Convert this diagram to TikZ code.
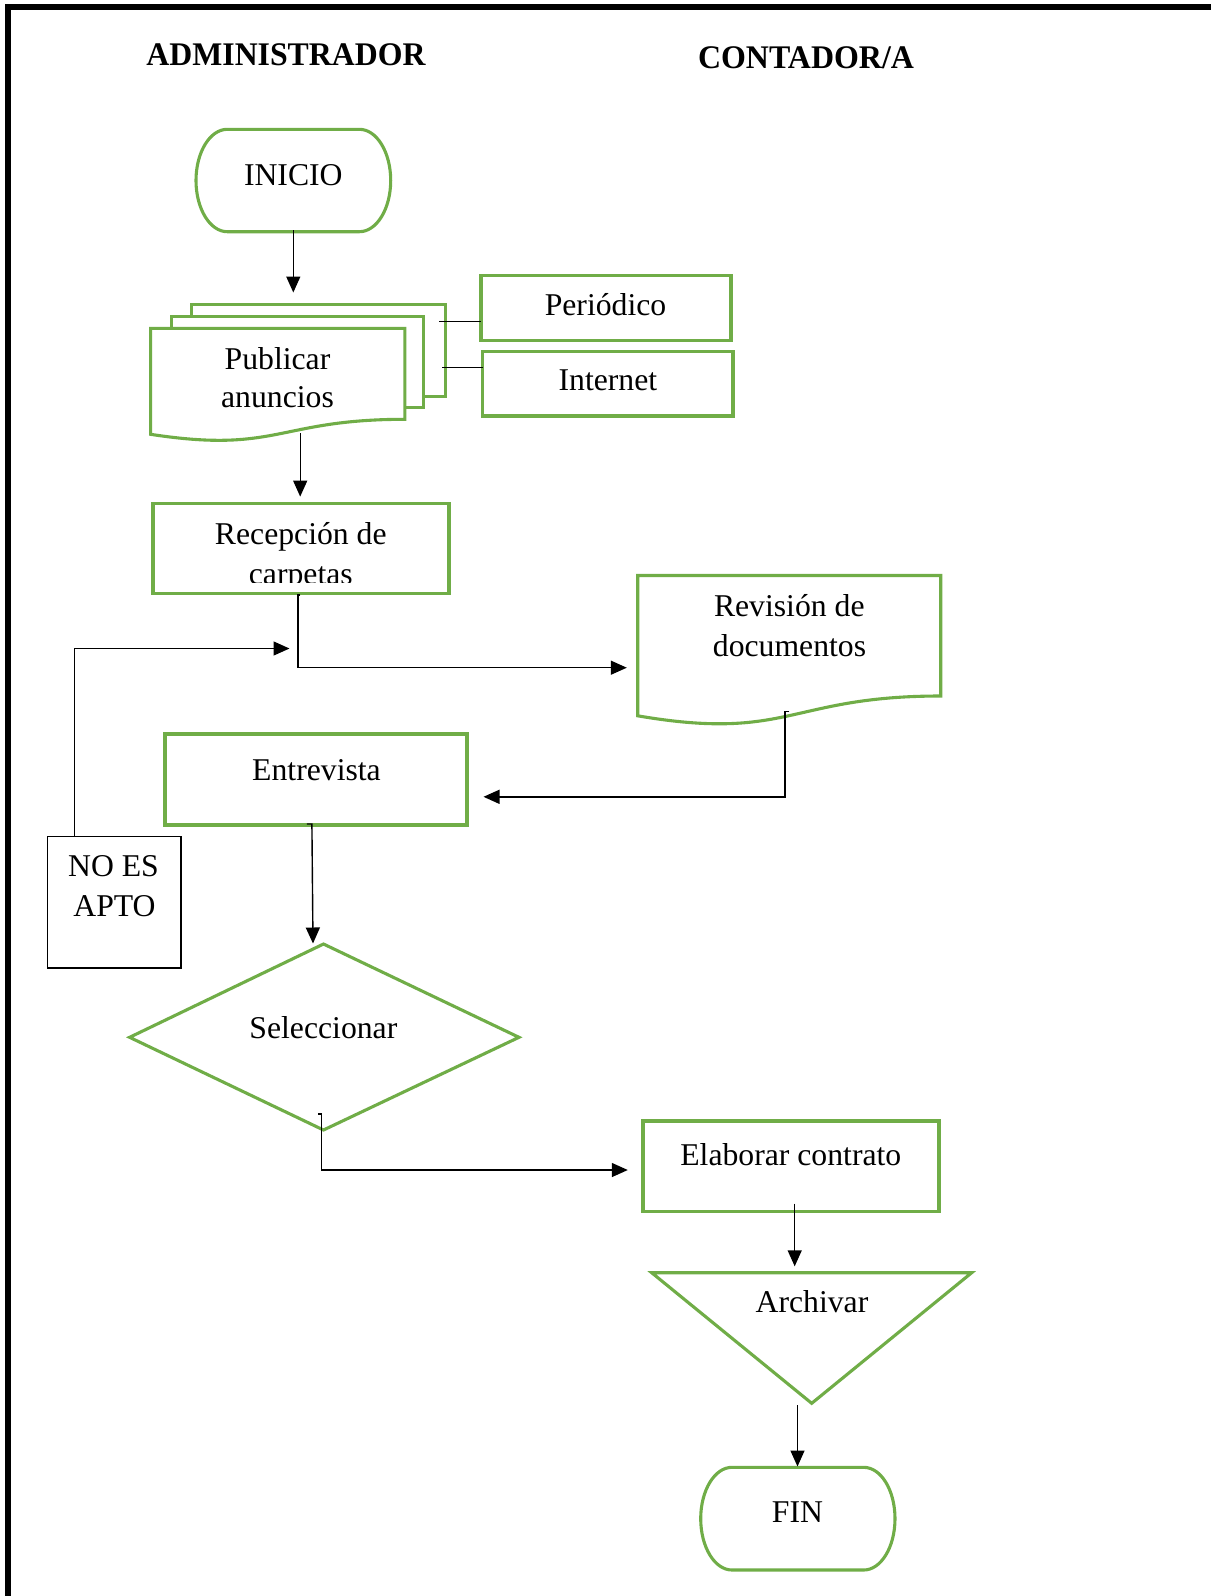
\documentclass[tikz,border=0pt]{standalone}
\usepackage{fontspec}
\usepackage{graphicx}
\setmainfont{Liberation Serif}
\usetikzlibrary{arrows.meta}
\definecolor{flowgreen}{RGB}{112,173,71}
\begin{document}
\begin{tikzpicture}[x=1pt,y=-1pt,
  shapeline/.style={draw=flowgreen, line width=3.1pt, fill=white, line join=miter},
  rectbox/.style={shapeline, rectangle, inner sep=0pt, outer sep=0pt},
  plainbox/.style={draw=black, line width=1.4pt, rectangle, inner sep=0pt, outer sep=0pt},
  conn/.style={draw=black, line width=1.4pt},
  flow/.style={conn, -{Triangle[length=16pt,width=14pt]}},
  lbl/.style={font=\fontsize{31.7}{39.7}\selectfont, anchor=base, inner sep=0pt, outer sep=0pt},
  head/.style={font=\fontsize{33}{40}\selectfont\bfseries, anchor=base, inner sep=0pt, outer sep=0pt}
]
\useasboundingbox (0,0) rectangle (1211,1596);

% page frame (top and left rules)
\draw[line width=5.7pt] (8.2,1596) -- (8.2,6.85) -- (1211,6.85);

% lane titles
\node[head] (tadmin) at (286,65) {\resizebox{279pt}{\height}{ADMINISTRADOR}};
\node[head] (tcont) at (806,68.5) {\resizebox{216pt}{\height}{CONTADOR/A}};

% ---- shapes ----
% start terminator
\draw[shapeline] (227.3,129.3) -- (359.4,129.3)
  .. controls (376.7,129.3) and (390.7,152.2) .. (390.7,180.5)
  .. controls (390.7,208.8) and (376.7,231.7) .. (359.4,231.7)
  -- (227.3,231.7)
  .. controls (210,231.7) and (196,208.8) .. (196,180.5)
  .. controls (196,152.2) and (210,129.3) .. (227.3,129.3) -- cycle;

% multi-document: publish ads
\draw[shapeline] (191.3,304.3) rectangle (445.1,396.7);
\draw[shapeline] (171.5,316.7) rectangle (423.8,407.7);
\draw[shapeline] (150.6,328.3) -- (404.8,328.3) -- (404.8,419.3)
  .. controls (277.7,419.3) and (277.7,453.9) .. (150.6,434.3) -- cycle;

% media boxes
\node[rectbox, minimum width=250pt, minimum height=65pt] (periodico) at (606,308) {};
\node[rectbox, minimum width=250.5pt, minimum height=64.5pt] (internet) at (607.75,383.75) {};

% reception
\node[rectbox, minimum width=296pt, minimum height=90pt] (recepcion) at (301,548.5) {};

% document review
\draw[shapeline] (637.7,575.5) -- (940.7,575.5) -- (940.7,696)
  .. controls (789.2,696) and (789.2,741.8) .. (637.7,715.8) -- cycle;

% interview
\node[rectbox, minimum width=302pt, minimum height=91pt] (entrevista) at (316,779.5) {};

% rejected
\node[plainbox, minimum width=133.5pt, minimum height=131.5pt] (noapto) at (114.25,902.25) {};

% decision
\draw[shapeline] (323.5,944) -- (519,1037.3) -- (323.5,1130) -- (129.6,1037.3) -- cycle;

% contract
\node[rectbox, minimum width=296pt, minimum height=90.5pt] (contrato) at (791,1166.25) {};

% archive (merge triangle)
\draw[shapeline] (651.7,1272.7) -- (971.7,1272.7) -- (811.7,1403.3) -- cycle;

% end terminator
\draw[shapeline] (732,1467.3) -- (863.7,1467.3)
  .. controls (881,1467.3) and (895,1490.25) .. (895,1518.65)
  .. controls (895,1547.05) and (881,1570) .. (863.7,1570)
  -- (732,1570)
  .. controls (714.7,1570) and (700.7,1547.05) .. (700.7,1518.65)
  .. controls (700.7,1490.25) and (714.7,1467.3) .. (732,1467.3) -- cycle;

% ---- labels ----
\node[lbl] (linicio) at (293.3,185) {INICIO};
\node[lbl] (lpub1) at (277.5,369.3) {Publicar};
\node[lbl] (lpub2) at (277.5,407) {anuncios};
\node[lbl] (lper) at (605.5,315) {Periódico};
\node[lbl] (lint) at (607.9,390.7) {Internet};
\node[lbl] (lrec1) at (300.8,544.3) {Recepción de};
\begin{scope}
  \clip (150,500) rectangle (452,582.5);
  \node[lbl] (lrec2) at (300.8,584) {carpetas};
\end{scope}
\node[lbl] (lrev1) at (789.3,616) {Revisión de};
\node[lbl] (lrev2) at (789.5,656.7) {documentos};
\node[lbl] (lent) at (316.5,780) {Entrevista};
\node[lbl] (lno1) at (113.5,876) {NO ES};
\node[lbl] (lno2) at (114.5,916.7) {APTO};
\node[lbl] (lsel) at (323.4,1038.3) {Seleccionar};
\node[lbl] (lcon) at (790.8,1165.7) {Elaborar contrato};
\node[lbl] (larc) at (812,1312.3) {Archivar};
\node[lbl] (lfin) at (797.5,1522.7) {FIN};

% ---- connector end points ----
\coordinate (inicioOut) at (293.3,230);
\coordinate (pubIn) at (293.3,292.5);
\coordinate (pubOut) at (300.2,433.3);
\coordinate (recIn) at (300.2,496.6);
\coordinate (perTap) at (439.2,321.7);
\coordinate (intTap) at (442.4,367.7);
\coordinate (recOut) at (300.3,595);
\coordinate (recBend) at (297.8,595);
\coordinate (revIn) at (626.8,667.7);
\coordinate (noOut) at (74.4,836.7);
\coordinate (loopIn) at (289.5,648.5);
\coordinate (revOut) at (789.3,711.7);
\coordinate (revBend) at (785,711.7);
\coordinate (entIn) at (483.5,796.8);
\coordinate (entOut) at (306.9,824);
\coordinate (entBend) at (311.9,824);
\coordinate (selIn) at (313,943.5);
\coordinate (selOut) at (318.1,1114);
\coordinate (selBend) at (321.7,1114);
\coordinate (conIn) at (627.8,1170);
\coordinate (conOut) at (794.7,1203.5);
\coordinate (arcIn) at (794.7,1266.3);
\coordinate (arcOut) at (797.5,1405.3);
\coordinate (finIn) at (797.5,1466.5);

% ---- connectors ----
\draw[flow] (inicioOut) -- (pubIn);
\draw[flow] (pubOut) -- (recIn);
\draw[conn] (perTap) -- (periodico.west |- perTap);
\draw[conn] (intTap) -- (internet.west |- intTap);
\draw[flow] (recOut) -- (recBend) |- (revIn);
\draw[flow] (noOut) |- (loopIn);
\draw[flow] (revOut) -- (revBend) |- (entIn);
\draw[flow] (entOut) -- (entBend) -- (selIn);
\draw[flow] (selOut) -- (selBend) |- (conIn);
\draw[flow] (conOut) -- (arcIn);
\draw[flow] (arcOut) -- (finIn);
\end{tikzpicture}
\end{document}
